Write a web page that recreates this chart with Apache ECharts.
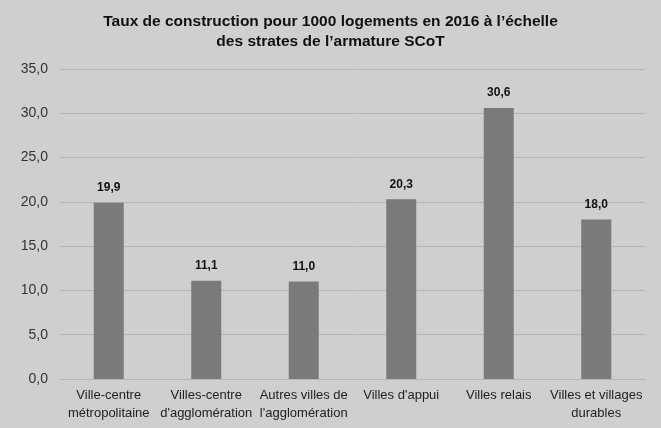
<!DOCTYPE html>
<html>
<head>
<meta charset="utf-8">
<script src="https://cdn.jsdelivr.net/npm/echarts@6/dist/echarts.min.js"></script>
<style>
  html, body { margin: 0; padding: 0; background: #c8c8c8; }
  #chart { width: 661px; height: 428px; }
</style>
</head>
<body>
<div id="chart"></div>
<script>
const categories = [
  'Ville-centre\nmétropolitaine',
  'Villes-centre\nd\'agglomération',
  'Autres villes de\nl\'agglomération',
  'Villes d\'appui',
  'Villes relais',
  'Villes et villages\ndurables'
]
const values = [19.9, 11.1, 11.0, 20.3, 30.6, 18.0]

const font = "'Liberation Sans', Arial, sans-serif"
const fmt = v => v.toFixed(1).replace('.', ',')

const chart = echarts.init(document.getElementById('chart'))

chart.setOption({
  backgroundColor: '#cfcfcf',
  animation: false,
  title: {
    text: 'Taux de construction pour 1000 logements en 2016 à l’échelle\ndes strates de l’armature SCoT',
    left: 'center',
    top: 7,
    textStyle: {
      fontFamily: font,
      fontSize: 15.5,
      fontWeight: 'bold',
      color: '#111',
      lineHeight: 20
    }
  },
  grid: { left: 60, right: 16, top: 69, bottom: 49 },
  xAxis: {
    type: 'category',
    data: categories,
    axisTick: { show: false },
    axisLine: { lineStyle: { color: '#b5b5b5' } },
    axisLabel: {
      interval: 0,
      margin: 7,
      fontFamily: font,
      fontSize: 13,
      lineHeight: 18,
      color: '#222'
    }
  },
  yAxis: {
    type: 'value',
    min: 0,
    max: 35,
    interval: 5,
    axisLine: { show: false },
    axisTick: { show: false },
    splitLine: { lineStyle: { color: '#b5b5b5' } },
    axisLabel: {
      formatter: fmt,
      margin: 12,
      fontFamily: font,
      fontSize: 14,
      color: '#333'
    }
  },
  series: [{
    type: 'bar',
    data: values,
    barWidth: 30,
    itemStyle: { color: '#7a7a7a' },
    label: {
      show: true,
      position: 'top',
      distance: 9,
      formatter: p => fmt(p.value),
      fontFamily: font,
      fontSize: 12,
      fontWeight: 'bold',
      color: '#111'
    }
  }]
})
</script>
</body>
</html>
